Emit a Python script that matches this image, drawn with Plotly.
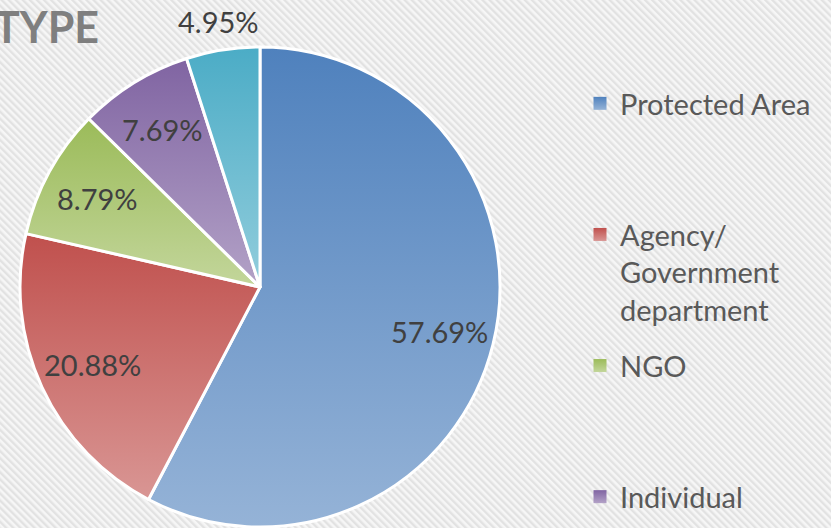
import base64
import math
import plotly.graph_objects as go

# ---- data ----
categories = ["Protected Area", "Agency/ Government department", "NGO", "Individual", "Other"]
legend_labels = ["Protected Area", "Agency/<br>Government<br>department", "NGO", "Individual"]
values = [57.69, 20.88, 8.79, 7.69, 4.95]
label_outside = [False, False, False, False, True]
title_text = "TYPE"

# ---- style ----
top_colors = ["#4F81BD", "#C0504D", "#9BBB59", "#8064A2", "#4BACC6"]
bottom_colors = ["#95B3D7", "#D99694", "#C3D69B", "#B3A2C7", "#92CDDC"]
mid_colors = ["#6F97C9", "#CB716E", "#AEC879", "#9882B4", "#6EBCD1"]
FONT = "Lato"
W, H = 831, 528
CX, CY, R = 260, 287, 240          # pie centre / radius in pixels
R_IN, R_OUT = 0.77, 1.12           # label radius factors

stripes = (
    "<svg xmlns='http://www.w3.org/2000/svg' width='831' height='528'>"
    "<defs><pattern id='p' width='5' height='5' patternUnits='userSpaceOnUse' "
    "patternTransform='rotate(-45)'>"
    "<rect width='5' height='5' fill='#F6F6F6'/><rect width='2.4' height='5' fill='#E2E2E2'/>"
    "</pattern></defs><rect width='100%' height='100%' fill='url(#p)'/></svg>"
)
bg_uri = "data:image/svg+xml;base64," + base64.b64encode(stripes.encode()).decode()

fig = go.Figure()
fig.add_trace(go.Pie(
    labels=categories,
    values=values,
    sort=False,
    direction="clockwise",
    rotation=0,
    textinfo="none",
    hovertemplate="%{label}: %{value:.2f}%<extra></extra>",
    marker=dict(colors=mid_colors, line=dict(color="white", width=3)),
    domain=dict(x=[(CX - R) / W, (CX + R) / W], y=[1 - (CY + R) / H, 1 - (CY - R) / H]),
    showlegend=False,
))

# percentage labels placed along each slice's mid-angle
total = sum(values)
cum = 0.0
for v, out in zip(values, label_outside):
    theta = (cum + v / 2) / total * 2 * math.pi
    cum += v
    r = R * (R_OUT if out else R_IN)
    px = CX + r * math.sin(theta)
    py = CY - r * math.cos(theta)
    fig.add_annotation(
        text="%.2f%%" % (v / total * 100), xref="paper", yref="paper",
        x=px / W, y=1 - py / H, xanchor="center", yanchor="middle", showarrow=False,
        font=dict(family=FONT, size=29, color="#404040"),
    )

# legend entries (only those visible in the frame)
pad = ["<br> <br> ", "", "<br> <br> ", ""]
for i, lab in enumerate(legend_labels):
    fig.add_trace(go.Scatter(
        x=[None], y=[None], mode="markers", name=lab + pad[i],
        legendgroup="g%d" % i,
        marker=dict(symbol="square", size=13, color=mid_colors[i]),
        hoverinfo="skip",
    ))

fig.add_annotation(
    text="<b>%s</b>" % title_text, xref="paper", yref="paper",
    x=100 / W, y=1, xanchor="right", yanchor="top", showarrow=False,
    borderpad=0,
    font=dict(family=FONT, size=43, color="#7F7F7F"),
)

fig.add_layout_image(dict(
    source=bg_uri, xref="paper", yref="paper", x=0, y=1, sizex=1, sizey=1,
    sizing="stretch", layer="below", xanchor="left", yanchor="top",
))

fig.update_layout(
    width=W, height=H,
    margin=dict(l=0, r=0, t=0, b=0, autoexpand=False),
    paper_bgcolor="white", plot_bgcolor="rgba(0,0,0,0)",
    xaxis=dict(visible=False), yaxis=dict(visible=False),
    legend=dict(
        x=580 / W, y=1 - 78 / H, xanchor="left", yanchor="top",
        valign="top", traceorder="grouped", tracegroupgap=15,
        bgcolor="rgba(0,0,0,0)",
        font=dict(family=FONT, size=29, color="#595959"),
    ),
)

post_js = """
document.body.style.margin = '0';
document.body.style.overflow = 'hidden';
var gd = document.getElementById('{plot_id}');
var tops = %s, bots = %s;
var svg = gd.querySelector('.main-svg');
var defs = svg.querySelector('defs');
var ns = 'http://www.w3.org/2000/svg';
for (var i = 0; i < tops.length; i++) {
  var lg = document.createElementNS(ns, 'linearGradient');
  lg.setAttribute('id', 'slicegrad' + i);
  lg.setAttribute('x1', '0'); lg.setAttribute('y1', '0');
  lg.setAttribute('x2', '0'); lg.setAttribute('y2', '1');
  var s1 = document.createElementNS(ns, 'stop');
  s1.setAttribute('offset', '0'); s1.setAttribute('stop-color', tops[i]);
  var s2 = document.createElementNS(ns, 'stop');
  s2.setAttribute('offset', '1'); s2.setAttribute('stop-color', bots[i]);
  lg.appendChild(s1); lg.appendChild(s2); defs.appendChild(lg);
}
var paths = gd.querySelectorAll('g.slice path.surface');
paths.forEach(function(p, i){ p.style.fill = 'url(#slicegrad' + i + ')'; });
var pts = gd.querySelectorAll('.legend .traces path.scatterpts, .legend .traces .legendpoints path');
pts.forEach(function(p, i){ if (i < tops.length) p.style.fill = 'url(#slicegrad' + i + ')'; });
""" % (str(top_colors), str(bottom_colors))

fig.write_html("out.html", post_script=post_js, config={"displayModeBar": False})
